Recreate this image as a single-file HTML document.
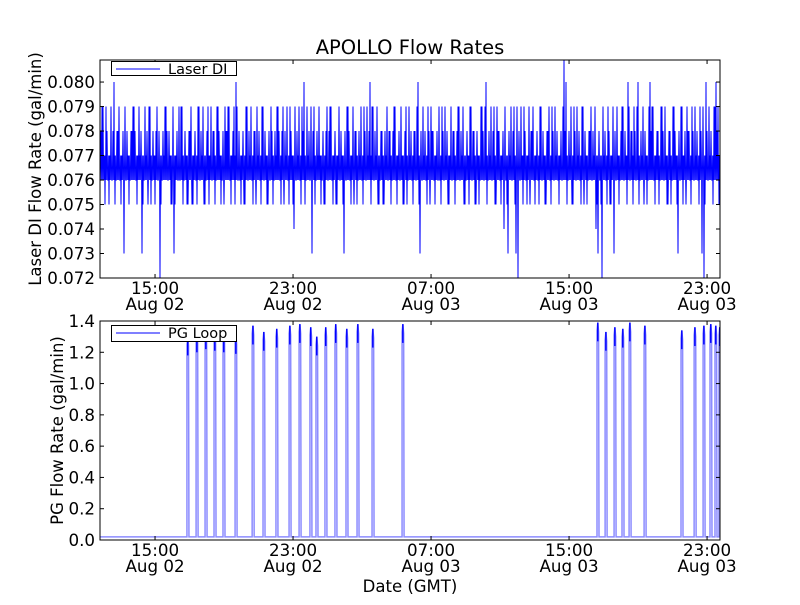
<!DOCTYPE html>
<html><head><meta charset="utf-8"><style>
body{margin:0;background:#fff;}
svg text{font-family:"DejaVu Sans","Liberation Sans",sans-serif;fill:#000;}
</style></head><body>
<svg id="chart" width="800" height="600" xmlns="http://www.w3.org/2000/svg">
<rect width="800" height="600" fill="#fff"/>
<text x="410" y="54" font-size="19.5" text-anchor="middle">APOLLO Flow Rates</text>
<g id="topPanel"></g>
<g id="botPanel"></g>
<text x="410" y="592" font-size="16.5" text-anchor="middle">Date (GMT)</text>
</svg>
<script>
// time in hours since Aug 02 00:00
const xTickHours = [15, 23, 31, 39, 47];
const xTickTimes = ["15:00", "23:00", "07:00", "15:00", "23:00"];
const xTickDates = ["Aug 02", "Aug 02", "Aug 03", "Aug 03", "Aug 03"];
const topTicks = [0.072,0.073,0.074,0.075,0.076,0.077,0.078,0.079,0.080];
const botTicks = [0.0,0.2,0.4,0.6,0.8,1.0,1.2,1.4];
// Laser DI readings, digits: 0 => 0.080, 1 => 0.081, d => 0.07d
const laserDigits = "6979676068673676896773675967862679675376696758576967569768697658967906675967685769675686796857697467690676396776586967576736967586769670967568576869676759676860367695867669675768696756796857696067695867463769326796758676967586967676106759676957686743627695736769670689606757609678696758697369758696769320676909";
const laserDigits2 = "8958598589589858985985989585985898859589958589585989585985985898958598585989589859858958985989585989585989858958598958598589859858958985989585898589589585985895898589858958985985898958598585989589859858958985989585989585985895898589858958985985898958598585989589859858958985989585989585985895898589858958985985898";
// dominant band levels the signal toggles between (gal/min)
const laserBand = [0.076, 0.077];
const pgSpikeHours = [16.85,17.38,17.90,18.42,18.94,19.64,20.63,21.26,22.01,22.77,23.35,23.98,24.33,24.85,25.43,26.07,26.71,27.58,29.32,40.62,41.09,41.61,42.07,42.48,43.35,45.49,46.25,46.77,47.17,47.46,47.69];
const pgSpikeValues = [1.30,1.32,1.34,1.33,1.32,1.31,1.37,1.33,1.35,1.37,1.38,1.36,1.30,1.36,1.38,1.35,1.38,1.35,1.38,1.39,1.33,1.36,1.35,1.39,1.37,1.34,1.36,1.37,1.38,1.37,1.36];
const pgBaseline = 0.02;

const NS="http://www.w3.org/2000/svg";
const X0=100,X1=720,T0=11.81,T1=47.75;
const FS=16.7;
const xs=t=>X0+(t-T0)/(T1-T0)*(X1-X0);
function mk(parent,tag,attrs){const e=document.createElementNS(NS,tag);for(const k in attrs)e.setAttribute(k,attrs[k]);parent.appendChild(e);return e;}
function dv(ch){const d=+ch;return d===0?0.080:(d===1?0.081:0.070+d*0.001);}

function panel(g,Y0,Y1,vmin,vmax,yticks,fmt,ylabel,legend,key){
  const ys=v=>Y1-(v-vmin)/(vmax-vmin)*(Y1-Y0);
  const clipId="clip"+key;
  const cp=mk(g,"clipPath",{id:clipId});mk(cp,"rect",{x:X0,y:Y0,width:X1-X0,height:Y1-Y0});
  const dg=mk(g,"g",{"clip-path":"url(#"+clipId+")"});
  return {ys,dg,finish:()=>{
    const fr=mk(g,"rect",{x:X0,y:Y0,width:X1-X0,height:Y1-Y0,fill:"none",stroke:"#000","stroke-width":1});
    
    
    yticks.forEach(v=>{const y=ys(v);
      mk(g,"line",{x1:X0,x2:X0+4,y1:y,y2:y,stroke:"#000"});
      mk(g,"line",{x1:X1-4,x2:X1,y1:y,y2:y,stroke:"#000"});
      const t=mk(g,"text",{x:X0-5,y:y+6,"font-size":FS,"text-anchor":"end"});t.textContent=fmt(v);
      
      
    });
    xTickHours.forEach((h,i)=>{const x=xs(h);
      mk(g,"line",{x1:x,x2:x,y1:Y1,y2:Y1-4,stroke:"#000"});
      mk(g,"line",{x1:x,x2:x,y1:Y0,y2:Y0+4,stroke:"#000"});
      const t=mk(g,"text",{x:x,y:Y1+16,"font-size":FS,"text-anchor":"middle"});t.textContent=xTickTimes[i];
      
      
      const d=mk(g,"text",{x:x,y:Y1+32,"font-size":FS,"text-anchor":"middle"});d.textContent=xTickDates[i];
      
      
    });
    const yl=mk(g,"text",{x:0,y:0,"font-size":16.5,"text-anchor":"middle",transform:`translate(${key==="t"?41:63},${(Y0+Y1)/2}) rotate(-90)`});
    yl.textContent=ylabel;
    
    
    const lg=mk(g,"g",{});
    
    
    const ly=Y0+(key==="t"?9:12);
    mk(lg,"rect",{x:111.5,y:ly-7.5,width:125,height:key==="t"?14:16,fill:"#fff",stroke:"#000"});
    mk(lg,"line",{x1:116,x2:160,y1:ly,y2:ly,stroke:"#0000ff","stroke-opacity":key==="t"?1:0.5,"stroke-width":key==="t"?1:2});
    const lt=mk(lg,"text",{x:168,y:ly+5,"font-size":14.5});lt.textContent=legend;
  }};
}

// top panel
const topG=document.getElementById("topPanel");
const p1=panel(topG,60,278,0.072,0.0809,topTicks,v=>v.toFixed(3),"Laser DI Flow Rate (gal/min)","Laser DI","t");
const n=laserDigits.length;
let pts=[];
for(let i=0;i<n;i++){
  const seq=[dv(laserDigits[i]),laserBand[0],laserBand[1],dv(laserDigits2[i]),laserBand[1],laserBand[0]];
  seq.forEach((val,j)=>{const t=T0+(i+j/seq.length)/n*(T1-T0);pts.push(xs(t).toFixed(2)+","+p1.ys(val).toFixed(1));});}
const l1=mk(p1.dg,"polyline",{points:pts.join(" "),fill:"none",stroke:"#0000ff","stroke-width":1});


p1.finish();

// bottom panel
const botG=document.getElementById("botPanel");
const p2=panel(botG,321,540,0,1.4,botTicks,v=>v.toFixed(1),"PG Flow Rate (gal/min)","PG Loop","b");
let bp=[xs(T0)+","+p2.ys(pgBaseline)];
pgSpikeHours.forEach((h,i)=>{const v=pgSpikeValues[i];
  bp.push(xs(h)+","+p2.ys(pgBaseline));
  bp.push(xs(h)+","+p2.ys(v-0.05));
  bp.push((xs(h)+0.8)+","+p2.ys(v));
  bp.push((xs(h)+1.6)+","+p2.ys(v-0.06));
  bp.push((xs(h)+2)+","+p2.ys(pgBaseline));});
bp.push(xs(T1)+","+p2.ys(pgBaseline));
const l2=mk(p2.dg,"polyline",{points:bp.join(" "),fill:"none",stroke:"#0000ff","stroke-opacity":0.45,"stroke-width":1.5});


pgSpikeHours.forEach((h,i)=>{const v=pgSpikeValues[i];
  const c=mk(p2.dg,"line",{x1:xs(h)+0.8,x2:xs(h)+0.8,y1:p2.ys(v),y2:p2.ys(v-0.12),stroke:"#0000ff","stroke-width":1.5});
  
  
});
p2.finish();
</script>
</body></html>
